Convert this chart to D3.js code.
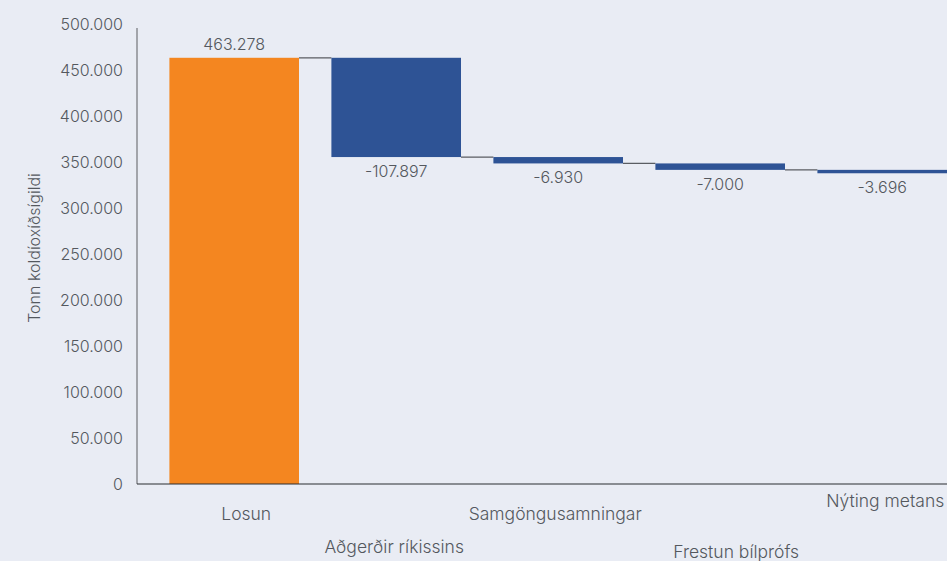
<!DOCTYPE html>
<meta charset="utf-8">
<style>
    html, body { margin: 0; padding: 0; overflow: hidden; background: #e9ecf4; }
    svg { display: block; font-family: Inter, "Noto Sans", sans-serif; }
</style>
<svg width="947" height="561"></svg>
<script src="https://d3js.org/d3.v7.min.js"></script>
<script>
    // gögn
    const categories = ["Losun", "Aðgerðir ríkissins", "Samgöngusamningar", "Frestun bílprófs", "Nýting metans"]
    const values = [463278, -107897, -6930, -7000, -3696]
    const yTicks = [0, 50000, 100000, 150000, 200000, 250000, 300000, 350000, 400000, 450000, 500000]
    const yTitle = "Tonn koldíoxíðsígildi"

    const svg = d3.select("svg"),
        width = 947,
        height = 561;

    const is = d3.formatLocale({ decimal: ",", thousands: ".", grouping: [3], currency: ["", " kr."], minus: "-" })
    const fmt = is.format(",d")

    // running totals for the waterfall
    let run = 0
    const bars = values.map((v, i) => {
        const start = i === 0 ? 0 : run
        run = i === 0 ? v : run + v
        return { name: categories[i], value: v, start: start, end: run, i: i }
    })

    const y = d3.scaleLinear().domain([0, 500000]).range([484, 24])
    const x = d3.scaleBand().domain(categories)
        .range([137, 137 + 5.2 * 162])
        .paddingInner(0.2)
        .paddingOuter(0.2)

    const textColor = "#54585e"
    const fw = 300

    // y axis
    const yAxis = svg.append("g")
        .attr("transform", "translate(137,0)")
        .call(d3.axisLeft(y).tickValues(yTicks).tickFormat(fmt).tickSize(0).tickPadding(14))
    yAxis.select(".domain").remove()
    yAxis.selectAll("text")
        .attr("font-size", 16)
        .attr("font-weight", fw)
        .attr("fill", textColor)
        .attr("font-family", "Inter, 'Noto Sans', sans-serif")

    svg.append("line")
        .attr("x1", 137).attr("x2", 137)
        .attr("y1", 28).attr("y2", y(0))
        .attr("stroke", "#8a8d92").attr("stroke-width", 1.5)

    svg.append("text")
        .attr("transform", "translate(40," + 248 + ") rotate(-90)")
        .attr("text-anchor", "middle")
        .attr("font-size", 16)
        .attr("font-weight", fw)
        .attr("fill", textColor)
        .text(yTitle)

    // connectors
    svg.selectAll(".conn")
        .data(bars.slice(0, -1))
        .join("line")
        .attr("class", "conn")
        .attr("x1", d => x(d.name) + x.bandwidth())
        .attr("x2", d => x(categories[d.i + 1]))
        .attr("y1", d => y(d.end))
        .attr("y2", d => y(d.end))
        .attr("stroke", "#5a5d62")
        .attr("stroke-width", 1.2)

    // bars
    svg.selectAll(".bar")
        .data(bars)
        .join("rect")
        .attr("class", "bar")
        .attr("x", d => x(d.name))
        .attr("width", x.bandwidth())
        .attr("y", d => y(Math.max(d.start, d.end)))
        .attr("height", d => Math.abs(y(d.start) - y(d.end)))
        .attr("fill", d => d.i === 0 ? "#f48620" : "#2e5395")

    // value labels
    svg.selectAll(".val")
        .data(bars)
        .join("text")
        .attr("class", "val")
        .attr("x", d => x(d.name) + x.bandwidth() / 2)
        .attr("y", d => d.value >= 0 ? y(d.end) - 8 : y(d.end) + 20)
        .attr("text-anchor", "middle")
        .attr("font-size", 16)
        .attr("font-weight", fw)
        .attr("fill", textColor)
        .text(d => fmt(d.value))

    // x axis
    svg.append("line")
        .attr("x1", 137).attr("x2", width)
        .attr("y1", y(0)).attr("y2", y(0))
        .attr("stroke", "#2b2d30").attr("stroke-width", 1.2)

    // staggered category labels
    const labelRows = [36, 69, 36, 74, 23]
    const labelShift = [12, -2, -3, 16, 3]
    svg.selectAll(".cat")
        .data(bars)
        .join("text")
        .attr("class", "cat")
        .attr("x", d => x(d.name) + x.bandwidth() / 2 + labelShift[d.i])
        .attr("y", d => y(0) + labelRows[d.i])
        .attr("text-anchor", "middle")
        .attr("font-size", 17.5)
        .attr("font-weight", fw)
        .attr("fill", textColor)
        .text(d => d.name)
</script>
